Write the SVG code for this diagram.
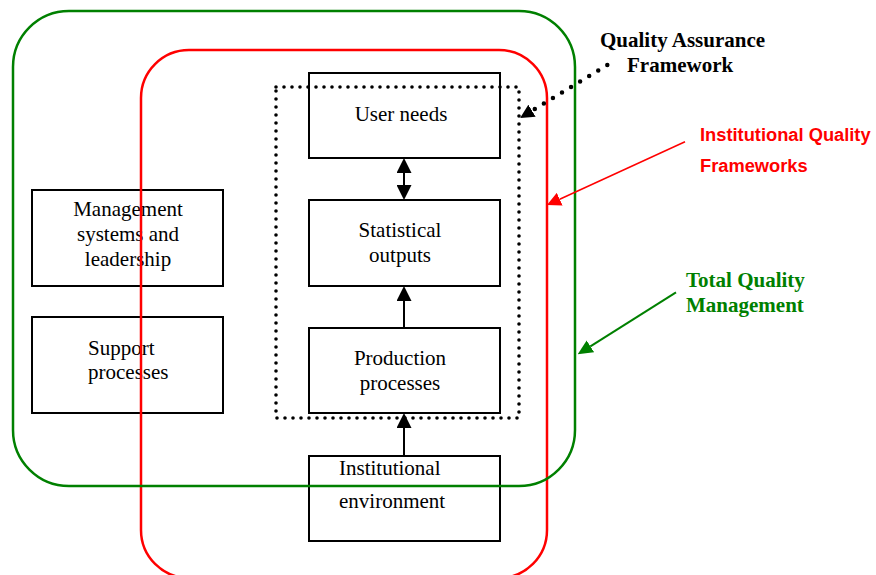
<svg xmlns="http://www.w3.org/2000/svg" width="876" height="575" viewBox="0 0 876 575">
<style>
.box{fill:#fff;stroke:#000;stroke-width:2}
.t{font-family:"Liberation Serif","Times New Roman",serif;font-size:21px;fill:#000}
.c{text-anchor:middle}
.tb{font-family:"Liberation Serif","Times New Roman",serif;font-size:21px;font-weight:bold}
.ts{font-family:"Liberation Sans",Arial,sans-serif;font-size:18.3px;font-weight:bold;fill:#ff0000}
.frame{fill:none}
.arr{stroke:#000;stroke-width:2;fill:none}
</style>
<defs>
<marker id="hb" markerUnits="userSpaceOnUse" markerWidth="15" markerHeight="15" refX="0" refY="7.5" orient="auto-start-reverse" viewBox="0 0 15 15"><path d="M0,0 L15,7.5 L0,15 z" fill="#000"/></marker>
<marker id="hr" markerUnits="userSpaceOnUse" markerWidth="14" markerHeight="14" refX="0" refY="7" orient="auto" viewBox="0 0 14 14"><path d="M0,0 L14,7 L0,14 z" fill="#ff0000"/></marker>
<marker id="hg" markerUnits="userSpaceOnUse" markerWidth="15" markerHeight="14" refX="0" refY="7" orient="auto" viewBox="0 0 15 14"><path d="M0,0 L15,7 L0,14 z" fill="#008000"/></marker>
<marker id="hq" markerUnits="userSpaceOnUse" markerWidth="14" markerHeight="14" refX="0" refY="7" orient="auto" viewBox="0 0 14 14"><path d="M0,0 L14,7 L0,14 z" fill="#000"/></marker>
</defs>
<rect width="876" height="575" fill="#fff"/>

<g id="mgmt">
<rect class="box" x="32" y="190" width="191" height="96"/>
<text class="t c" x="128" y="216">Management</text>
<text class="t c" x="128" y="241">systems and</text>
<text class="t c" x="128" y="266">leadership</text>
</g>
<g id="support">
<rect class="box" x="32" y="317" width="191" height="96"/>
<text class="t" x="88" y="355">Support</text>
<text class="t" x="88" y="379">processes</text>
</g>
<g id="user-needs">
<rect class="box" x="309" y="73" width="191" height="85"/>
<text class="t c" x="401" y="121">User needs</text>
</g>
<g id="stat-outputs">
<rect class="box" x="309" y="200" width="191" height="86"/>
<text class="t c" x="400" y="237">Statistical</text>
<text class="t c" x="400" y="262">outputs</text>
</g>
<g id="production">
<rect class="box" x="309" y="328" width="191" height="85"/>
<text class="t c" x="400" y="365">Production</text>
<text class="t c" x="400" y="390">processes</text>
</g>
<g id="inst-env">
<rect class="box" x="309" y="456" width="191" height="85"/>
<text class="t" x="339" y="475">Institutional</text>
<text class="t" x="339" y="508">environment</text>
</g>

<g id="qaf-frame">
<rect class="frame" x="276" y="87" width="243" height="331" stroke="#000" stroke-width="3.6" stroke-dasharray="0 8" stroke-linecap="round"/>
</g>
<g id="iqf-frame">
<rect class="frame" x="141" y="50" width="406" height="528" rx="48" ry="48" stroke="#ff0000" stroke-width="2.5"/>
</g>
<g id="tqm-frame">
<rect class="frame" x="13" y="11" width="562" height="475" rx="56" ry="56" stroke="#008000" stroke-width="2.5"/>
</g>

<g id="connectors">
<line class="arr" x1="404" y1="173" x2="404" y2="185" marker-start="url(#hb)" marker-end="url(#hb)"/>
<line class="arr" x1="404" y1="328" x2="404" y2="301" marker-end="url(#hb)"/>
<line class="arr" x1="404" y1="456" x2="404" y2="428" marker-end="url(#hb)"/>
<line x1="685" y1="141.7" x2="559.7" y2="199.2" stroke="#ff0000" stroke-width="1.5" marker-end="url(#hr)"/>
<line x1="676" y1="292.3" x2="590.4" y2="346.3" stroke="#008000" stroke-width="2" marker-end="url(#hg)"/>
<line x1="607.3" y1="65" x2="532" y2="110.7" stroke="#000" stroke-width="4.5" stroke-dasharray="0 10.6" stroke-linecap="round" marker-end="url(#hq)"/>
</g>

<g id="label-qaf">
<text class="tb" x="600" y="47" fill="#000">Quality Assurance</text>
<text class="tb" x="627" y="72" fill="#000">Framework</text>
</g>
<g id="label-iqf">
<text class="ts" x="700" y="141">Institutional Quality</text>
<text class="ts" x="700" y="172">Frameworks</text>
</g>
<g id="label-tqm">
<text class="tb" x="686" y="287" fill="#008000">Total Quality</text>
<text class="tb" x="686" y="312" fill="#008000">Management</text>
</g>
</svg>
